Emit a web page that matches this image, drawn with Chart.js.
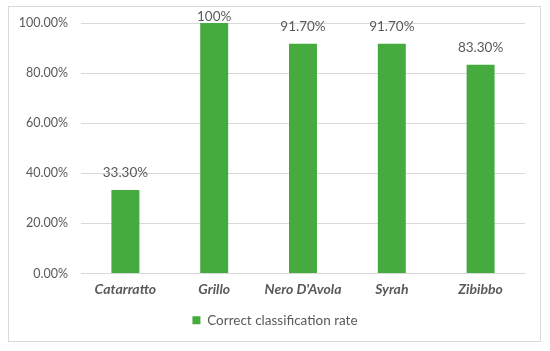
<!DOCTYPE html>
<html>
<head>
<meta charset="utf-8">
<script src="https://cdn.jsdelivr.net/npm/chart.js@4"></script>
<style>
    body { margin: 0; background: #fff; }
    #wrap { position: relative; width: 550px; height: 351px; }
    #frame { position: absolute; left: 8px; top: 6px; width: 533px; height: 336px; border: 1px solid #d9d9d9; box-sizing: border-box; }
    canvas { position: absolute; left: 0; top: 0; }
</style>
</head>
<body>
<div id="wrap">
    <div id="frame"></div>
    <canvas id="rateChart" width="550" height="351"></canvas>
</div>
<script>
const varieties = ['Catarratto', 'Grillo', "Nero D'Avola", 'Syrah', 'Zibibbo'];
const rates = [33.3, 100, 91.7, 91.7, 83.3];
const rateLabels = ['33.30%', '100%', '91.70%', '91.70%', '83.30%'];
const seriesName = 'Correct classification rate';

const fontFamily = 'Lato, "Open Sans", sans-serif';
const textGrey = '#595959';

// draws the value above each bar, kept inside the frame
const barValues = {
    id: 'barValues',
    afterDatasetsDraw(chart) {
        const ctx = chart.ctx;
        const meta = chart.getDatasetMeta(0);
        ctx.save();
        ctx.font = '13.5px ' + fontFamily;
        ctx.fillStyle = textGrey;
        ctx.textAlign = 'center';
        ctx.textBaseline = 'middle';
        meta.data.forEach((bar, i) => {
            const y = Math.max(bar.y - 17, 17);
            ctx.fillText(rateLabels[i], bar.x, y);
        });
        ctx.restore();
    }
};

new Chart(document.getElementById('rateChart'), {
    type: 'bar',
    data: {
        labels: varieties,
        datasets: [{
            label: seriesName,
            data: rates,
            backgroundColor: '#45ab3e',
            barPercentage: 0.63,
            categoryPercentage: 0.5,
        }]
    },
    plugins: [barValues],
    options: {
        responsive: false,
        animation: false,
        layout: { padding: { left: 0, right: 0, top: 23, bottom: 14 } },
        plugins: {
            tooltip: { enabled: false },
            legend: {
                position: 'bottom',
                labels: {
                    boxWidth: 8,
                    boxHeight: 8,
                    padding: 8,
                    color: textGrey,
                    font: { family: fontFamily, size: 13.5 },
                }
            }
        },
        scales: {
            x: {
                grid: { display: false },
                border: { color: '#d9d9d9' },
                ticks: {
                    color: textGrey,
                    padding: 0,
                    font: { family: fontFamily, size: 14, weight: 'bold', style: 'italic' }
                },
                afterFit: (scale) => { scale.height = 32; }
            },
            y: {
                min: 0,
                max: 100,
                ticks: {
                    stepSize: 20,
                    padding: 13,
                    color: textGrey,
                    font: { family: fontFamily, size: 12.5 },
                    callback: (v) => v.toFixed(2) + '%'
                },
                grid: { color: '#d9d9d9', drawTicks: false },
                border: { display: false },
                afterFit: (scale) => { scale.width = 81; }
            },
            // empty right axis, only keeps the plot clear of the right frame
            spacer: {
                position: 'right',
                min: 0,
                max: 100,
                ticks: { display: false },
                grid: { display: false, drawTicks: false },
                border: { display: false },
                afterFit: (scale) => { scale.width = 25; }
            }
        }
    }
});
</script>
</body>
</html>
